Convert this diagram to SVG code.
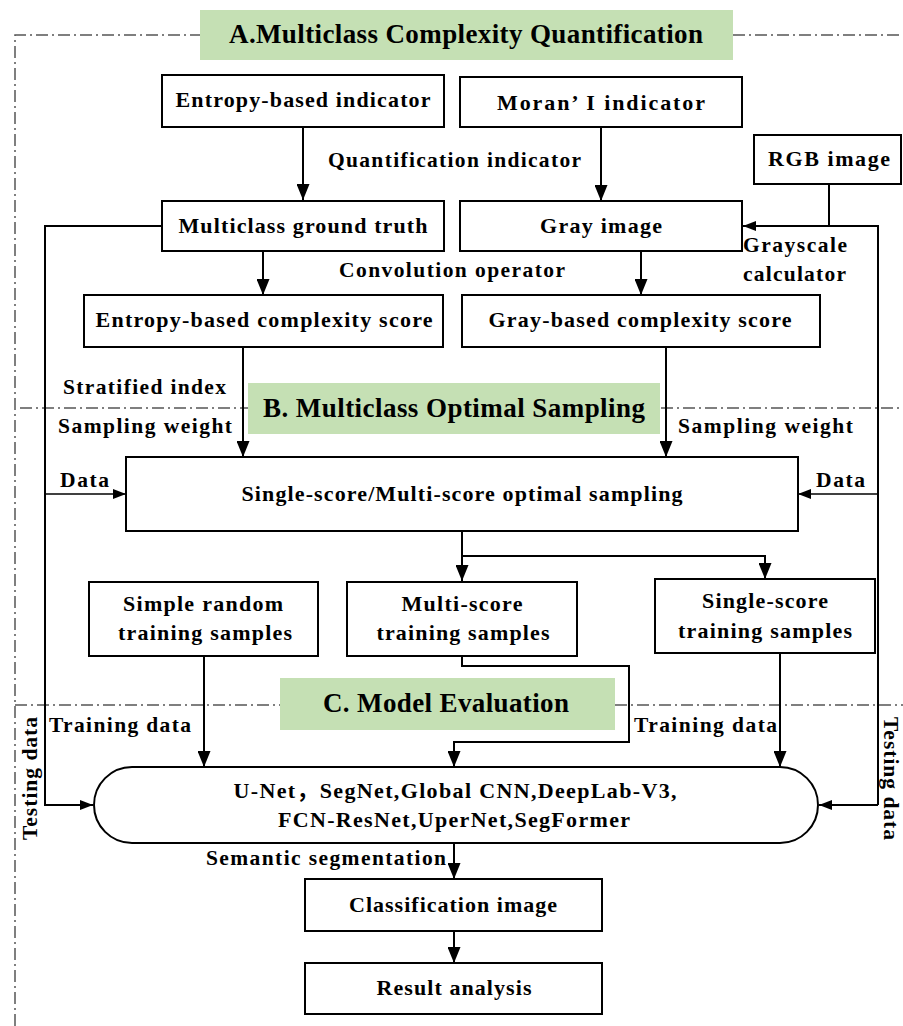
<svg xmlns="http://www.w3.org/2000/svg" width="903" height="1026" viewBox="0 0 903 1026">
<style>
text{font-family:'Liberation Serif','Times New Roman','Noto Sans CJK SC',serif;font-weight:bold;fill:#000;}
.t{font-size:22px;text-anchor:middle;}
.l{font-size:21.5px;}
.b{font-size:27px;text-anchor:middle;}
.box{fill:#fff;stroke:#000;stroke-width:2;}
.ban{fill:#c5e0b4;}
.dd{fill:none;stroke:#555;stroke-width:1.5;stroke-dasharray:12 4 2 4;}
.c{fill:none;stroke:#000;stroke-width:2;}
.cs{fill:none;stroke:#000;stroke-width:1.6;}
</style>
<defs>
<marker id="ah" markerUnits="userSpaceOnUse" markerWidth="16" markerHeight="13" refX="16" refY="6.5" orient="auto"><path d="M0,0 L16,6.5 L0,13 z" fill="#000"/></marker>
<marker id="as" markerUnits="userSpaceOnUse" markerWidth="13" markerHeight="10" refX="13" refY="5" orient="auto"><path d="M0,0 L13,5 L0,10 z" fill="#000"/></marker>
</defs>
<rect width="903" height="1026" fill="#fff"/>

<g id="frame">
<path class="dd" d="M15,1026 V35 H200"/>
<path class="dd" d="M733,35 H903"/>
<path class="dd" d="M20,408 H248"/>
<path class="dd" d="M661,408 H903"/>
<path class="dd" d="M15,705 H280"/>
<path class="dd" d="M615,705 H903"/>
</g>

<g id="bannerA"><rect class="ban" x="200" y="10" width="533" height="50"/><text class="b" x="466" y="43" textLength="474" lengthAdjust="spacing">A.Multiclass Complexity Quantification</text></g>
<g id="bannerB"><rect class="ban" x="248" y="383" width="412" height="51"/><text class="b" x="454" y="417" textLength="382" lengthAdjust="spacing">B. Multiclass Optimal Sampling</text></g>
<g id="bannerC"><rect class="ban" x="280" y="678" width="335" height="52"/><text class="b" x="446" y="712" textLength="246" lengthAdjust="spacing">C. Model Evaluation</text></g>

<g id="connectors">
<path class="c" d="M303,127 V200" marker-end="url(#ah)"/>
<path class="c" d="M601,127 V201" marker-end="url(#ah)"/>
<path class="c" d="M263,251 V295" marker-end="url(#ah)"/>
<path class="c" d="M641,251 V295" marker-end="url(#ah)"/>
<path class="c" d="M829,184 V226"/>
<path class="c" d="M878,805 V226 H743" marker-end="url(#as)"/>
<path class="c" d="M162,226 H45 V805 H93" marker-end="url(#as)"/>
<path class="c" d="M878,805 H819" marker-end="url(#as)"/>
<path class="c" d="M243,347 V457" marker-end="url(#ah)"/>
<path class="c" d="M666,347 V457" marker-end="url(#ah)"/>
<path class="cs" d="M45,494 H126" marker-end="url(#as)"/>
<path class="cs" d="M878,494 H798" marker-end="url(#as)"/>
<path class="c" d="M462,531 V581" marker-end="url(#ah)"/>
<path class="c" d="M462,556 H765 V579" marker-end="url(#ah)"/>
<path class="c" d="M204,656 V767" marker-end="url(#ah)"/>
<path class="c" d="M462,656 V666 H629 V742 H454 V767" marker-end="url(#ah)"/>
<path class="c" d="M780,653 V767" marker-end="url(#ah)"/>
<path class="c" d="M454,843 V879" marker-end="url(#ah)"/>
<path class="c" d="M454,931 V963" marker-end="url(#ah)"/>
</g>

<g id="labels">
<text class="l" x="328" y="167" textLength="253" lengthAdjust="spacing">Quantification indicator</text>
<text class="l" x="339" y="277" textLength="226" lengthAdjust="spacing">Convolution operator</text>
<text class="l" x="743" y="252" textLength="104" lengthAdjust="spacing">Grayscale</text>
<text class="l" x="743" y="281" textLength="103" lengthAdjust="spacing">calculator</text>
<text class="l" x="63" y="394" textLength="163" lengthAdjust="spacing">Stratified index</text>
<text class="l" x="58" y="433" textLength="174" lengthAdjust="spacing">Sampling weight</text>
<text class="l" x="678" y="433" textLength="175" lengthAdjust="spacing">Sampling weight</text>
<text class="l" x="60" y="487" textLength="49" lengthAdjust="spacing">Data</text>
<text class="l" x="816" y="487" textLength="49" lengthAdjust="spacing">Data</text>
<text class="l" x="49" y="732" textLength="142" lengthAdjust="spacing">Training data</text>
<text class="l" x="634" y="732" textLength="143" lengthAdjust="spacing">Training data</text>
<text class="l" transform="translate(37,840) rotate(-90)" textLength="123" lengthAdjust="spacing">Testing data</text>
<text class="l" transform="translate(884,717) rotate(90)" textLength="123" lengthAdjust="spacing">Testing data</text>
<text class="l" x="206" y="865" textLength="240" lengthAdjust="spacing">Semantic segmentation</text>
</g>

<g id="entropyIndicator"><rect class="box" x="162" y="75" width="282" height="52"/><text class="t" x="303" y="107" textLength="255" lengthAdjust="spacing">Entropy-based indicator</text></g>
<g id="moranIndicator"><rect class="box" x="460" y="77" width="282" height="50"/><text class="t" x="601" y="110" textLength="208" lengthAdjust="spacing">Moran’ I indicator</text></g>
<g id="rgbImage"><rect class="box" x="754" y="135" width="147" height="49"/><text class="t" x="829" y="166" textLength="122" lengthAdjust="spacing">RGB image</text></g>
<g id="groundTruth"><rect class="box" x="162" y="201" width="282" height="50"/><text class="t" x="303" y="233" textLength="249" lengthAdjust="spacing">Multiclass ground truth</text></g>
<g id="grayImage"><rect class="box" x="460" y="201" width="282" height="50"/><text class="t" x="601" y="233" textLength="122" lengthAdjust="spacing">Gray image</text></g>
<g id="entropyScore"><rect class="box" x="84" y="295" width="359" height="52"/><text class="t" x="264" y="327" textLength="337" lengthAdjust="spacing">Entropy-based complexity score</text></g>
<g id="grayScore"><rect class="box" x="462" y="295" width="358" height="52"/><text class="t" x="640" y="327" textLength="303" lengthAdjust="spacing">Gray-based complexity score</text></g>
<g id="optimalSampling"><rect class="box" x="126" y="457" width="672" height="74"/><text class="t" x="462" y="501" textLength="441" lengthAdjust="spacing">Single-score/Multi-score optimal sampling</text></g>
<g id="simpleRandom"><rect class="box" x="89" y="582" width="229" height="74"/><text class="t" x="203" y="611" textLength="160" lengthAdjust="spacing">Simple random</text><text class="t" x="205" y="640" textLength="174" lengthAdjust="spacing">training samples</text></g>
<g id="multiScore"><rect class="box" x="347" y="582" width="230" height="74"/><text class="t" x="462" y="611" textLength="121" lengthAdjust="spacing">Multi-score</text><text class="t" x="463" y="640" textLength="173" lengthAdjust="spacing">training samples</text></g>
<g id="singleScore"><rect class="box" x="655" y="579" width="220" height="74"/><text class="t" x="765" y="608" textLength="126" lengthAdjust="spacing">Single-score</text><text class="t" x="765" y="638" textLength="174" lengthAdjust="spacing">training samples</text></g>
<g id="models"><rect class="box" x="94" y="767" width="724" height="76" rx="38" ry="38"/><text class="t" x="455" y="798" textLength="443" lengthAdjust="spacing">U-Net，SegNet,Global CNN,DeepLab-V3,</text><text class="t" x="454" y="827" textLength="352" lengthAdjust="spacing">FCN-ResNet,UperNet,SegFormer</text></g>
<g id="classificationImage"><rect class="box" x="305" y="879" width="297" height="52"/><text class="t" x="453" y="912" textLength="208" lengthAdjust="spacing">Classification image</text></g>
<g id="resultAnalysis"><rect class="box" x="305" y="963" width="297" height="51"/><text class="t" x="454" y="995" textLength="155" lengthAdjust="spacing">Result analysis</text></g>
</svg>
